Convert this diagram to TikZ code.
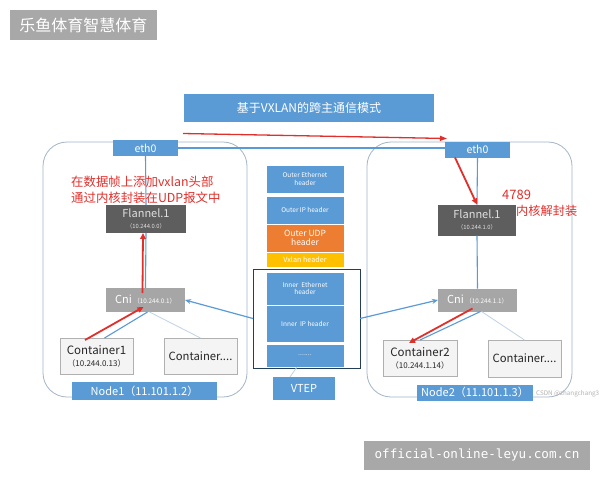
\documentclass[tikz,border=0pt]{standalone}
\usepackage{fontspec}
\setmainfont{Noto Sans CJK SC}
\newfontfamily\monof{DejaVu Sans Mono}
\usetikzlibrary{calc,arrows.meta}
\definecolor{bl}{HTML}{5B9BD5}
\definecolor{dgray}{HTML}{5E5E5E}
\definecolor{mgray}{HTML}{A6A6A6}
\definecolor{wm}{HTML}{A8A8A8}
\definecolor{cfill}{HTML}{F4F4F4}
\definecolor{cbord}{HTML}{B0B0B0}
\definecolor{nodeb}{HTML}{A3B5C7}
\definecolor{org}{HTML}{ED7D31}
\definecolor{yel}{HTML}{FFC000}
\definecolor{rd}{HTML}{E0302C}
\definecolor{lblue}{HTML}{BFD3E6}
\begin{document}
\begin{tikzpicture}[x=1pt,y=-1pt,
  sz/.style 2 args={minimum width=#1pt, minimum height=#2pt, inner sep=0pt, outer sep=0pt},
  bluebox/.style={fill=bl, text=white},
  cell/.style={fill=bl, draw=white, line width=0.6pt, text=white, align=center, font=\fontsize{6.5}{7.5}\selectfont},
  flbox/.style={fill=dgray, text=white!88!black, align=center},
  cnibox/.style={fill=mgray, text=white},
  cbox/.style={fill=cfill, draw=cbord, line width=0.6pt, text=black!85, align=center},
  nodeframe/.style={draw=nodeb, line width=0.8pt, rounded corners=24pt},
  redarr/.style={draw=rd, line width=1.8pt, -{Triangle[length=6pt,width=5.5pt]}},
  bluearr/.style={draw=bl, line width=1.2pt, -{Stealth[length=6pt,width=5pt]}},
  bline/.style={draw=bl, line width=1.1pt},
  gline/.style={draw=lblue, line width=0.8pt},
  redtxt/.style={text=rd, inner sep=0pt, anchor=west},
  wmbox/.style={fill=wm, text=white, inner sep=0pt}
]
\useasboundingbox (0,0) rectangle (600,480);
\fill[white] (0,0) rectangle (600,480);

% watermarks
\node[wmbox, sz={147}{30}, font=\fontsize{16}{16}\selectfont] (wm1) at (83.5,25) {乐鱼体育智慧体育};
\node[wmbox, sz={226}{29}, font=\monof\fontsize{12.6}{13}\selectfont] (wm2) at (477,455) {official-online-leyu.com.cn};

% title
\node[bluebox, sz={250}{28}, font=\fontsize{12}{12}\selectfont] (title) at (309,108) {基于VXLAN的跨主通信模式};

% node frames
\draw[nodeframe] (43,142) rectangle (247,397) node[coordinate] (frL) {};
\draw[nodeframe] (367,142) rectangle (572,397) node[coordinate] (frR) {};

% eth0 boxes
\node[bluebox, sz={65}{16}, font=\fontsize{10.5}{10.5}\selectfont] (ethL) at (145.5,148) {eth0};
\node[bluebox, sz={65}{16}, font=\fontsize{10.5}{10.5}\selectfont] (ethR) at (477.5,149.5) {eth0};

% flannel
\node[flbox, sz={80}{28}] (flL) at (146,219) {\fontsize{11}{12}\selectfont Flannel.1\\[-1pt]\fontsize{5.8}{6}\selectfont （10.244.0.0）};
\node[flbox, sz={78}{31}] (flR) at (477,220) {\fontsize{11}{12}\selectfont Flannel.1\\[-1pt]\fontsize{5.8}{6}\selectfont （10.244.1.0）};

% cni
\node[cnibox, sz={79}{24}] (cniL) at (145.5,300) {\fontsize{11}{11}\selectfont Cni\,\fontsize{6.3}{7}\selectfont （10.244.0.1）};
\node[cnibox, sz={79}{23}] (cniR) at (477.5,300) {\fontsize{11}{11}\selectfont Cni\,\fontsize{6.3}{7}\selectfont （10.244.1.1）};

% containers
\node[cbox, sz={73}{36}] (c1) at (96.5,356) {\fontsize{11.5}{12.5}\selectfont Container1\\\fontsize{8}{9}\selectfont （10.244.0.13）};
\node[cbox, sz={73}{36}, font=\fontsize{11.3}{12}\selectfont] (cL) at (200.5,356) {Container....};
\node[cbox, sz={74}{36}] (c2) at (420,358) {\fontsize{11.5}{12.5}\selectfont Container2\\\fontsize{8}{9}\selectfont （10.244.1.14）};
\node[cbox, sz={73}{37}, font=\fontsize{11.3}{12}\selectfont] (cR) at (524.5,358.5) {Container....};

% node labels
\node[bluebox, sz={145}{18}, font=\fontsize{11}{11}\selectfont] (n1) at (144.5,391) {Node1（11.101.1.2）};
\node[bluebox, sz={116}{16}, font=\fontsize{11}{11}\selectfont] (n2) at (475,392.5) {Node2（11.101.1.3）};
\node[text=black!30, inner sep=0pt, anchor=west, font=\fontsize{6.3}{7}\selectfont] (csdn) at (536,394) {CSDN @zhangchang3};

% header stack
\node[cell, sz={78}{28}] (oe) at (305,179) {Outer Ethernet\\header};
\node[cell, sz={78}{28}] (oi) at (305,210) {Outer IP header};
\node[cell, sz={78}{28}, fill=org, font=\fontsize{8.5}{9.5}\selectfont] (ou) at (305,238) {Outer UDP\\header};
\node[cell, sz={78}{15}, fill=yel, font=\fontsize{7.2}{7.2}\selectfont] (vx) at (305,259.5) {Vxlan header};
\node[cell, sz={78}{33}] (ie) at (305,288.5) {Inner\ \ Ethernet\\header};
\node[cell, sz={78}{37}] (ii) at (305,323.5) {Inner\ \ IP header};
\node[cell, sz={78}{23}, font=\fontsize{7}{7}\selectfont] (dots) at (305,355.5) {.......};
\node[draw=black!60!bl, line width=1pt, sz={107}{99}] (vf) at (306.5,318.5) {};
\node[bluebox, sz={62}{23}, font=\fontsize{11}{11}\selectfont] (vtep) at (304,388.5) {VTEP};
\draw[gline] ($(dots.south)+(-8,0)$) -- ($(vtep.north)+(-14,0)$);

% links
\draw[bline] (ethL.east) -- (ethL.east -| ethR.west);
\draw[bline] (ethL.south) -- (flL.north);
\draw[bline] (flL.south) -- (cniL.north);
\draw[bline] (ethR.south) -- (flR.north);
\draw[bline] (flR.south) -- (cniR.north);

\draw[bluearr] (vf.west) -- (cniL.east);
\draw[bluearr] (vf.east) -- (cniR.west);

\draw[bline] ($(cniL.south)+(2,0)$) -- ($(c1.north)+(8,0)$);
\draw[gline] ($(cniL.south)+(4,0)$) -- (cL.north);
\draw[bline] ($(cniR.south)+(3,0)$) -- (c2.north);
\draw[gline] ($(cniR.south)+(4,0)$) -- (cR.north);

% red arrows
\coordinate (rs) at (183,133.5);
\coordinate (re) at (447,138.5);
\draw[draw=rd, line width=1.3pt, -{Triangle[length=7pt,width=5pt]}] (rs) -- (re);
\draw[redarr] ($(cniL.north)+(-3,5)$) -- ($(flL.south)+(-3,0)$);
\draw[redarr] ($(c1.north west)+(25,2)$) -- ($(cniL.south)+(-2,-5)$);
\draw[redarr] ($(ethR.south west)+(10,0)$) -- (flR.north);
\draw[redarr] ($(cniR.south)+(-5,-3)$) -- ($(c2.north)+(-11,3)$);

% red texts
\node[redtxt, align=left, font=\fontsize{12.4}{16}\selectfont] (tL) at (71,190) {在数据帧上添加vxlan头部\\通过内核封装在UDP报文中};
\node[redtxt, font=\fontsize{13}{13}\selectfont] (t1) at (502,195) {4789};
\node[redtxt, font=\fontsize{12.2}{13}\selectfont] (t2) at (516,211) {内核解封装};
\end{tikzpicture}
\end{document}
